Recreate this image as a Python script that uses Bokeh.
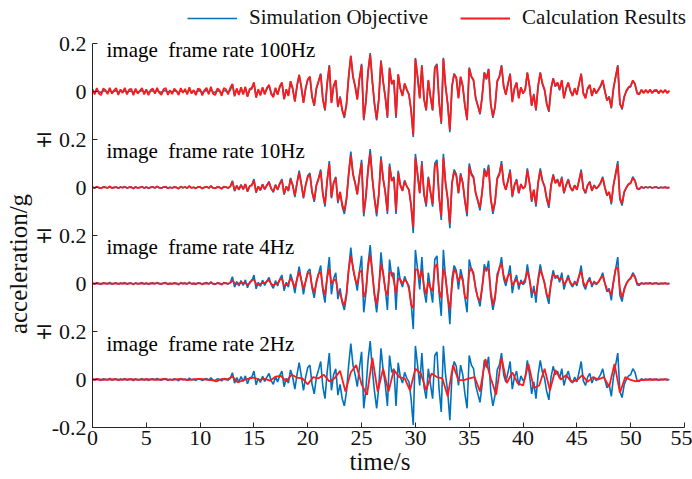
import numpy as np
from bokeh.plotting import figure
from bokeh.models import FixedTicker, Legend, LegendItem
from bokeh.embed import file_html
from bokeh.resources import INLINE
from bokeh.core.properties import value

# acceleration values in thousandths of g
# Simulation Objective, sampled every 0.2 s
blue = [
    2, -3, 4, -1, -4, 3, 1, -2, 5, -3,
    0, 3, -4, 2, -1, 4, -3, 1, 2, -5,
    3, -2, 0, 4, -3, 2, -4, 1, 3, -2,
    5, -1, -3, 2, 4, -4, 1, -2, 3, 0,
    -5, 4, -1, 2, -3, 6, -2, 1, -4, 3,
    2, -5, 1, 4, -3, 7, -2, -4, 3, 1,
    -6, 4, 2, -3, 5,
    28, -15, 8, -10, 12, -8, 15, -18, 6, 10, 35, -22, 5, -12, 14, -8, 10, 25, -5, -20, 12,
    -10, 18, 35, -30, 5, -15, 40, 10, -40, 20, 70, 15, -45, 10, 50,
    60, -20, -60, 10, 40, 75, -30, -80, 30, 110,
    -45, 20, 45, -65, -20, -80, -110, -50, 60, 150,
    60, 20, -30, 50, 115, -120, -40, 80, 160, 40,
    -50, -120, -30, 130, 40, -20, -110, 100, 30, 45,
    -110, 70, 10, -15, 30, 5, -10, -80, -190, 140,
    60, -25, 110, -30, -80, 45, -20, -80, 100, 115,
    -40, -135, 140, 20, -50, -170, 20, 75, 55, -25,
    60, 20, -60, -120, 100, 60, 45, -25, -60, -95,
    -20, 80, 50, 95, -50, -110, -65, 40, 60, 110,
    20, -10, 30, 75, -40, 10, 35, -25, 15, -5,
    5, 80, 20, -60, -10, -80, 20, 80, 30, 5,
    -50, -85, 10, 55, 20, 35, 5, 45, -25, 10,
    35, 0, -15, 10, -10, 30, 75, -5, -25, 10,
    25, -15, 10, -5, 5, 20, 45, 0, -35, -20,
    -70, 10, 60, 110, -50, -75, -20, 0, 15, 20,
    45, 30, -5,
    -8, 3, -2, 2, -1, 3, -2, 1, 2, -3, 1, -1, 2, -2, 0,
]

# Calculation Results, image frame rate 100Hz (every 0.2 s)
red_100 = [
    9, -12, 14, -8, -15, 12, 6, -11, 15, -9,
    5, 14, -14, 9, -6, 15, -12, 8, 11, -15,
    12, -9, 3, 14, -12, 9, -15, 6, 12, -9,
    15, -5, -14, 9, 15, -14, 6, -11, 12, 3,
    -15, 14, -6, 11, -12, 18, -9, 6, -15, 12,
    9, -16, 6, 15, -12, 20, -9, -15, 12, 6,
    -18, 15, 9, -12, 16,
    32, -20, 13, -15, 18, -13, 20, -22, 10, 15, 38, -26, 10, -17, 18, -12, 15, 28, -10, -24, 16,
    -14, 22, 38, -33, 10, -19, 43, 14, -42, 25, 68, 20, -47, 14, 50,
    62, -24, -58, 14, 44, 72, -34, -76, 34, 105,
    -48, 25, 48, -62, -24, -76, -104, -54, 64, 148,
    64, 24, -34, 54, 110, -112, -44, 84, 155, 44,
    -54, -114, -34, 126, 44, -24, -104, 96, 34, 48,
    -104, 72, 14, -19, 34, 9, -14, -76, -180, 135,
    64, -29, 106, -34, -76, 48, -24, -76, 96, 110,
    -44, -128, 135, 24, -54, -160, 24, 72, 58, -29,
    62, 24, -58, -114, 96, 64, 48, -29, -58, -90,
    -24, 78, 54, 92, -54, -104, -62, 44, 62, 106,
    24, -14, 34, 72, -44, 14, 38, -29, 18, -9,
    9, 78, 24, -58, -14, -76, 24, 78, 34, 9,
    -52, -80, 14, 54, 24, 38, 9, 48, -29, 14,
    38, 4, -19, 14, -14, 34, 72, -9, -29, 14,
    28, -19, 14, -9, 9, 24, 48, 4, -38, -24,
    -66, 14, 62, 106, -52, -70, -24, 4, 18, 24,
    46, 32, -9,
    -12, 8, -7, 7, -6, 8, -7, 6, 7, -8, 6, -6, 7, -7, 4,
]

# Calculation Results, image frame rate 10Hz (every 0.2 s)
red_10 = [
    1, -2, 3, -1, -3, 2, 1, -2, 4, -2,
    0, 2, -3, 2, -1, 3, -2, 1, 2, -4,
    2, -2, 0, 3, -2, 2, -3, 1, 2, -2,
    4, -1, -2, 2, 3, -3, 1, -2, 2, 0,
    -4, 3, -1, 2, -2, 5, -2, 1, -3, 2,
    2, -4, 1, 3, -2, 6, -2, -3, 2, 1,
    -5, 3, 2, -2, 4,
    24, -12, 7, -8, 10, -7, 13, -15, 5, 9, 30, -18, 4, -10, 12, -7, 9, 21, -4, -17, 10,
    -8, 15, 30, -26, 4, -13, 35, 9, -34, 17, 62, 13, -40, 9, 44,
    54, -18, -53, 9, 35, 67, -27, -70, 26, 98,
    -40, 18, 40, -57, -18, -70, -98, -45, 53, 135,
    54, 18, -27, 44, 102, -106, -36, 70, 142, 36,
    -45, -106, -27, 116, 36, -18, -97, 88, 27, 40,
    -97, 62, 9, -13, 27, 4, -9, -70, -165, 124,
    54, -22, 97, -27, -70, 40, -18, -70, 88, 102,
    -36, -120, 124, 18, -45, -150, 18, 66, 49, -22,
    53, 18, -53, -106, 88, 53, 40, -22, -53, -84,
    -18, 71, 44, 84, -45, -97, -57, 36, 53, 97,
    18, -9, 27, 66, -36, 9, 31, -22, 13, -4,
    4, 71, 18, -53, -9, -70, 18, 71, 27, 4,
    -44, -75, 9, 49, 18, 31, 4, 40, -22, 9,
    31, 0, -13, 9, -9, 27, 66, -4, -22, 9,
    22, -13, 9, -4, 4, 18, 40, 0, -31, -18,
    -62, 9, 53, 97, -44, -66, -18, 0, 13, 18,
    40, 27, -4,
    -6, 2, -2, 2, -1, 2, -2, 1, 1, -2, 1, -1, 1, -1, 0,
]

# Calculation Results, image frame rate 4Hz (every 0.2 s)
red_4 = [
    0, -1, 1, 0, -1, 1, 0, -1, 1, -1,
    0, 1, -1, 1, 0, 1, -1, 0, 1, -2,
    1, -1, 0, 1, -1, 1, -1, 0, 1, -1,
    2, 0, -1, 1, 1, -1, 0, -1, 1, 0,
    -2, 1, 0, 1, -1, 2, -1, 0, -1, 1,
    1, -2, 0, 1, -1, 3, -1, -2, 1, 0,
    -2, 1, 1, -1, 2,
    12, 2, -2, 0, 2, 3, 1, -4, 1, 15, 15, -1, -6, -1, 2, 2, 9, 14, -1, -8, -2,
    0, 16, 19, -10, -6, 0, 23, 6, -18, 18, 49, 14, -22, 7, 44,
    42, -12, -38, 2, 41, 47, -19, -48, 24, 63,
    -1, 12, 18, -34, -41, -74, -92, -40, 56, 114,
    70, 18, -4, 47, 55, -57, -32, 72, 120, 46,
    -46, -88, -16, 80, 46, -26, -50, 44, 47, 11,
    -43, 22, 17, -1, 16, 7, -21, -88, -102, 58,
    59, 19, 55, -12, -45, 7, -19, -32, 67, 81,
    -28, -61, 61, 30, -60, -108, -7, 60, 43, 8,
    35, 12, -56, -64, 48, 65, 34, -18, -60, -73,
    -15, 54, 65, 57, -33, -89, -53, 23, 66, 82,
    32, 4, 31, 43, -7, 5, 18, -5, 3, 1,
    18, 53, 16, -34, -34, -46, 12, 58, 35, -1,
    -46, -59, 0, 39, 30, 26, 19, 23, -4, 8,
    23, 4, -7, 1, 2, 31, 50, 7, -14, 6,
    14, -2, 2, 0, 6, 22, 31, 2, -25, -33,
    -44, 4, 60, 68, -23, -59, -27, -1, 13, 24,
    37, 26, 1,
    -3, 1, -1, 1, 0, 1, -1, 0, 1, -1, 0, 0, 1, -1, 0,
]

# Calculation Results, image frame rate 2Hz (every 0.5 s)
red_2 = [
    0, 1, -1, 0, 1, -1, 0, 1, 0, -1,
    1, 0, -1, 2, 0, -1, 2, 0, -2, 1,
    3, 0, -2, -8, 2, 0,
    12, -12, -3, 4, 8, -2, 3, -5, 12, 15,
    -8, 20, 8, 5, -20, 10, 5, 20, -8, 5,
    36, -50, 30, 60, -20, -64, 90, -50, 45, -50,
    40, 10, 5, -45, 45, 25, -45, 25, 10, 5,
    -70, 60, -3, -3, 5, 10, -50, 85, 5, -63,
    90, -15, 30, -15, -25, 65, -35, -25, 45, -45,
    40, 0, 18, -10, -3, 18, -10, 10, 0, 10,
    -30, 65, -55, 10, -2, -8, -2, -1, 0, -1,
    0, 0,
]

panel_titles = [
    "image\u00a0 frame rate 100Hz",
    "image\u00a0 frame rate 10Hz",
    "image\u00a0 frame rate 4Hz",
    "image\u00a0 frame rate 2Hz",
]
x_ticks = [0, 5, 10, 15, 20, 25, 30, 35, 40, 45, 50, 55]
y_ticks = [0.2, 0.0, -0.2, -0.4, -0.6, -0.8, -1.0, -1.2, -1.4]
y_tick_labels = ["0.2", "0", "\u2213 0.2", "0", "\u2213 0.2", "0", "\u2213 0.2", "0", "-0.2"]

# layout constants
offsets = [0.0, -0.4, -0.8, -1.2]
title_dy = [0.173, 0.152, 0.153, 0.147]
Y_AXIS_BOUNDS = (-1.4, 0.2)
X_AXIS_BOUNDS = (0, 55)
Y_TOP = 0.2 + 43 / 240.0      # room above the axis for the legend
X_END = 55 * 600 / 592.0      # room right of the axis for the legend text
BLUE = "#0072BD"
RED = "#FF1A1A"
FONT = "Liberation Serif"
TICK_FONT = "Liberation Serif, DejaVu Serif"
NB = "\u00a0"

p = figure(width=692, height=479, x_range=(0, X_END), y_range=(-1.4, Y_TOP),
           output_backend="svg", toolbar_location=None,
           min_border_left=92, min_border_right=0, min_border_top=0, min_border_bottom=52)
p.xgrid.visible = False
p.ygrid.visible = False
p.outline_line_color = None
p.background_fill_color = "white"

reds = [(red_100, 0.2), (red_10, 0.2), (red_4, 0.2), (red_2, 0.5)]
t_blue = np.arange(len(blue)) * 0.2
b_first = r_first = None
for k, off in enumerate(offsets):
    b = p.line(t_blue, np.array(blue) * 0.001 + off, line_color=BLUE, line_width=1.6)
    vals, dt = reds[k]
    r = p.line(np.arange(len(vals)) * dt, np.array(vals) * 0.001 + off, line_color=RED, line_width=1.8)
    if k == 0:
        b_first, r_first = b, r

p.text(x=[1.3] * 4, y=[o + d for o, d in zip(offsets, title_dy)], text=panel_titles,
       text_font=value(FONT), text_font_size="21px", text_color="black",
       text_baseline="alphabetic", text_align="left")

for ax in (p.xaxis[0], p.yaxis[0]):
    ax.major_tick_in = 5
    ax.major_tick_out = 0
    ax.minor_tick_in = 0
    ax.minor_tick_out = 0
    ax.axis_line_color = "#262626"
    ax.major_tick_line_color = "#262626"
    ax.major_label_text_font = TICK_FONT
    ax.major_label_text_font_size = "22px"
    ax.major_label_text_color = "#111111"
    ax.axis_label_text_font = FONT
    ax.axis_label_text_font_style = "normal"
    ax.axis_label_text_color = "#111111"

p.xaxis.ticker = FixedTicker(ticks=x_ticks)
p.xaxis.bounds = X_AXIS_BOUNDS
p.xaxis.major_label_standoff = 3
p.xaxis.axis_label = "time/s" + NB * 4
p.xaxis.axis_label_text_font_size = "25px"
p.xaxis.axis_label_standoff = 0

p.yaxis.ticker = FixedTicker(ticks=y_ticks)
p.yaxis.bounds = Y_AXIS_BOUNDS
p.yaxis.major_label_overrides = {t: lab for t, lab in zip(y_ticks, y_tick_labels)}
p.yaxis.major_label_standoff = 6
p.yaxis.axis_label = "acceleration/g" + NB * 16
p.yaxis.axis_label_text_font_size = "25px"
p.yaxis.axis_label_standoff = 0

legend = Legend(items=[LegendItem(label="Simulation Objective", renderers=[b_first]),
                       LegendItem(label="Calculation Results", renderers=[r_first])],
                orientation="horizontal", location=(95, 397),
                border_line_color=None, background_fill_alpha=0,
                padding=0, margin=0, spacing=32, glyph_width=50, glyph_height=20,
                label_standoff=12, label_text_font=FONT, label_text_font_size="21px",
                label_text_color="#111111")
p.add_layout(legend)

open("out.html", "w").write(file_html(p, INLINE))
